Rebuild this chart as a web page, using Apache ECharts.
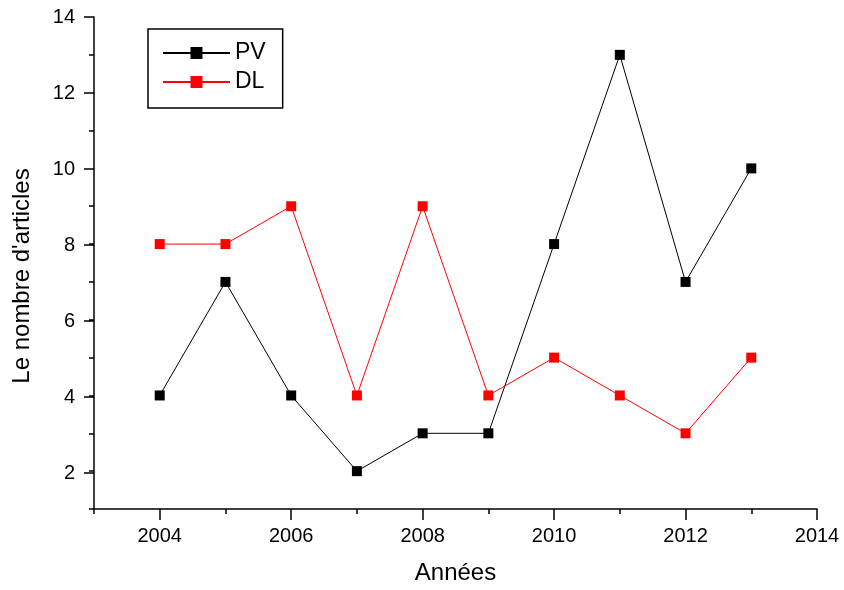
<!DOCTYPE html>
<html>
<head>
<meta charset="utf-8">
<script src="https://cdn.jsdelivr.net/npm/echarts@6/dist/echarts.min.js"></script>
<style>
  html, body { margin: 0; padding: 0; background: #fff; }
  #chart { width: 844px; height: 590px; }
</style>
</head>
<body>
<div id="chart"></div>
<script>
var years = [2004, 2005, 2006, 2007, 2008, 2009, 2010, 2011, 2012, 2013];
var pv = [4, 7, 4, 2, 3, 3, 8, 13, 7, 10];
var dl = [8, 8, 9, 4, 9, 4, 5, 4, 3, 5];

var font = 'Liberation Sans, Arial, sans-serif';

function pairs(vals) {
  return years.map(function (y, i) { return [y, vals[i]]; });
}

var myChart = echarts.init(document.getElementById('chart'));

var option = {
  animation: false,
  backgroundColor: '#fff',
  legend: {
    orient: 'vertical',
    left: 148,
    top: 29,
    padding: [12, 17, 14, 14],
    borderColor: '#000',
    borderWidth: 1.5,
    itemWidth: 67,
    itemHeight: 15,
    itemGap: 5,
    textStyle: { fontFamily: font, fontSize: 23, color: '#000', lineHeight: 24 },
    data: ['PV', 'DL']
  },
  grid: [
    // main plot
    { left: 94, right: 27, top: 17, bottom: 79 },
    // major x ticks (2004..2014)
    { left: 94 + 723 / 11, right: 27, top: 17, bottom: 79 },
    // major y ticks (2..14)
    { left: 94, right: 27, top: 17, bottom: 117 }
  ],
  xAxis: [{
    gridIndex: 0,
    type: 'value',
    min: 2003,
    max: 2014,
    interval: 1,
    name: 'Années',
    nameLocation: 'middle',
    nameGap: 52,
    nameTextStyle: { fontFamily: font, fontSize: 24, color: '#000' },
    axisLine: { lineStyle: { color: '#000', width: 1.5 } },
    axisTick: { length: 5, lineStyle: { color: '#000', width: 1.5 } },
    axisLabel: { show: false },
    splitLine: { show: false }
  }, {
    gridIndex: 1,
    type: 'value',
    min: 2004,
    max: 2014,
    interval: 2,
    axisLine: { show: false },
    axisTick: { length: 9, lineStyle: { color: '#000', width: 1.5 } },
    axisLabel: {
      margin: 15, fontFamily: font, fontSize: 20, color: '#000',
      formatter: function (v) { return String(v); }
    },
    splitLine: { show: false }
  }, {
    gridIndex: 2,
    type: 'value',
    min: 0,
    max: 1,
    show: false
  }],
  yAxis: [{
    gridIndex: 0,
    type: 'value',
    min: 1,
    max: 14,
    interval: 1,
    name: "Le nombre d'articles",
    nameLocation: 'middle',
    nameGap: 60,
    nameTextStyle: { fontFamily: font, fontSize: 24, color: '#000', padding: [0, 26, 0, 0] },
    axisLine: { lineStyle: { color: '#000', width: 1.5 } },
    axisTick: { length: 5, lineStyle: { color: '#000', width: 1.5 } },
    axisLabel: { show: false },
    splitLine: { show: false }
  }, {
    gridIndex: 1,
    type: 'value',
    min: 0,
    max: 1,
    show: false
  }, {
    gridIndex: 2,
    type: 'value',
    min: 2,
    max: 14,
    interval: 2,
    axisLine: { show: false },
    axisTick: { length: 10, lineStyle: { color: '#000', width: 1.5 } },
    axisLabel: { margin: 19, fontFamily: font, fontSize: 20, color: '#000' },
    splitLine: { show: false }
  }],
  series: [{
    name: 'PV',
    type: 'line',
    xAxisIndex: 0,
    yAxisIndex: 0,
    data: pairs(pv),
    symbol: 'rect',
    symbolSize: 10,
    lineStyle: { color: '#000', width: 1 },
    itemStyle: { color: '#000' }
  }, {
    name: 'DL',
    type: 'line',
    xAxisIndex: 0,
    yAxisIndex: 0,
    data: pairs(dl),
    symbol: 'rect',
    symbolSize: 10,
    lineStyle: { color: '#ff0000', width: 1 },
    itemStyle: { color: '#ff0000' }
  }]
};

myChart.setOption(option);
</script>
</body>
</html>
